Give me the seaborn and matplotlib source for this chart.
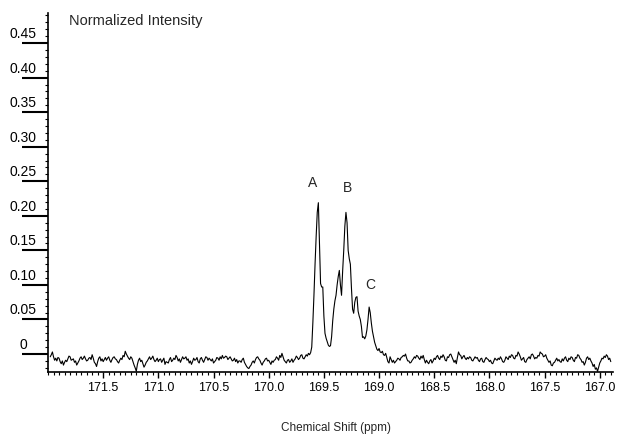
import numpy as np
import pandas as pd
import matplotlib
matplotlib.use("Agg")
import matplotlib.pyplot as plt
import seaborn as sns
from matplotlib.ticker import MultipleLocator
from matplotlib.transforms import ScaledTranslation

sns.set_style("ticks")
plt.rcParams['font.family'] = ['Liberation Sans', 'DejaVu Sans']

# ---- data ----
ppm_start = 171.98
ppm_step = 0.01

baseline_left = [
    -0.004, -0.001, 0.003, -0.004, -0.009, -0.006, -0.010, -0.005, -0.006, -0.011,
    -0.014, -0.010, -0.016, -0.012, -0.009, -0.011, -0.007, -0.003, -0.004, -0.009,
    -0.008, -0.007, -0.012, -0.010, -0.016, -0.013, -0.010, -0.006, -0.004, -0.008,
    -0.006, -0.003, -0.007, -0.010, -0.009, -0.006, -0.005, -0.008, -0.001, -0.006,
    -0.012, -0.014, -0.018, -0.011, -0.006, -0.004, -0.010, -0.007, -0.011, -0.008,
    -0.005, -0.009, -0.006, -0.004, -0.009, -0.012, -0.008, -0.005, -0.004, -0.007,
    -0.008, -0.011, -0.013, -0.009, -0.006, -0.008, -0.002, -0.004, 0.004, 0.000,
    -0.003, -0.006, -0.008, -0.004, -0.006, -0.011, -0.016, -0.020, -0.025, -0.015,
    -0.009, -0.006, -0.011, -0.009, -0.014, -0.019, -0.016, -0.012, -0.010, -0.007,
    -0.004, -0.008, -0.006, -0.003, -0.008, -0.011, -0.009, -0.006, -0.011, -0.008,
    -0.007, -0.012, -0.009, -0.006, -0.015, -0.011, -0.012, -0.013, -0.008, -0.005,
    -0.011, -0.009, -0.006, -0.008, -0.002, -0.005, -0.010, -0.007, -0.012, -0.008,
    -0.004, -0.007, -0.006, -0.004, -0.009, -0.007, -0.013, -0.010, -0.015, -0.011,
    -0.006, -0.009, -0.008, -0.005, -0.011, -0.013, -0.007, -0.005, -0.009, -0.012,
    -0.008, -0.004, -0.005, -0.009, -0.006, -0.008, -0.010, -0.007, -0.013, -0.011,
    -0.009, -0.005, -0.006, -0.009, -0.004, -0.007, -0.002, -0.006, -0.005, -0.003,
    -0.004, -0.008, -0.006, -0.004, -0.007, -0.010, -0.009, -0.006, -0.011, -0.008,
    -0.013, -0.010, -0.010, -0.012, -0.008, -0.006, -0.012, -0.015, -0.018, -0.020,
    -0.021, -0.018, -0.016, -0.012, -0.010, -0.013, -0.008, -0.005, -0.004, -0.007,
    -0.009, -0.013, -0.016, -0.012, -0.010, -0.007, -0.006, -0.010, -0.009, -0.012,
    -0.015, -0.010, -0.012, -0.009, -0.008, -0.004, -0.006, -0.009, -0.002, -0.005,
    0.001, -0.004, -0.009, -0.011, -0.013, -0.009, -0.008, -0.012, -0.010, -0.007,
    -0.012, -0.009, -0.007, -0.003, -0.005, -0.008,
]

peak_region = [
    -0.006, -0.002, -0.001, -0.006, -0.007, -0.004, -0.001, -0.003, 0.001, -0.001,
    0.002, 0.010, 0.045, 0.085, 0.130, 0.170, 0.205, 0.219, 0.160, 0.102,
    0.097, 0.097, 0.055, 0.030, 0.023, 0.018, 0.013, 0.011, 0.012, 0.025,
    0.048, 0.065, 0.077, 0.085, 0.100, 0.112, 0.121, 0.100, 0.085, 0.120,
    0.150, 0.185, 0.205, 0.190, 0.150, 0.138, 0.130, 0.095, 0.065, 0.059,
    0.075, 0.082, 0.083, 0.062, 0.055, 0.050, 0.040, 0.024, 0.025, 0.022,
    0.026, 0.035, 0.050, 0.068, 0.060, 0.045, 0.033, 0.025, 0.017, 0.012,
    0.007, 0.005, 0.008, 0.003, 0.002, 0.004, -0.001, -0.002, 0.001, -0.005,
    -0.011, -0.013, -0.004, -0.008, -0.012,
]

baseline_right = [
    -0.009, -0.013, -0.011, -0.009, -0.006, -0.007, -0.009, -0.005, -0.004, -0.002,
    -0.003, 0.000, -0.006, -0.010, -0.010, -0.013, -0.012, -0.009, -0.007, -0.004,
    -0.006, -0.002, -0.003, -0.006, -0.008, -0.003, -0.006, -0.002, -0.008, -0.013,
    -0.009, -0.012, -0.014, -0.010, -0.008, -0.013, -0.010, -0.006, -0.008, -0.004,
    -0.002, -0.006, -0.008, -0.003, -0.005, -0.001, -0.004, -0.009, -0.010, -0.004,
    -0.005, -0.001, 0.000, -0.004, -0.008, -0.012, -0.009, -0.014, -0.005, 0.003,
    -0.001, -0.002, -0.007, -0.004, -0.002, -0.006, -0.008, -0.005, -0.007, -0.004,
    -0.005, -0.009, -0.010, -0.007, -0.004, -0.006, -0.005, -0.009, -0.011, -0.007,
    -0.006, -0.011, -0.012, -0.008, -0.005, -0.007, -0.008, -0.011, -0.009, -0.013,
    -0.014, -0.010, -0.006, -0.008, -0.009, -0.006, -0.008, -0.004, -0.007, -0.011,
    -0.012, -0.009, -0.004, -0.006, -0.008, -0.003, -0.005, -0.001, -0.002, -0.006,
    -0.007, -0.002, -0.003, 0.003, 0.000, -0.004, -0.009, -0.007, -0.005, -0.011,
    -0.012, -0.008, -0.006, -0.004, -0.007, -0.001, 0.000, -0.003, -0.007, -0.005,
    -0.006, -0.002, -0.003, 0.003, 0.001, 0.000, -0.004, -0.003, -0.001, -0.006,
    -0.009, -0.012, -0.010, -0.016, -0.017, -0.013, -0.012, -0.009, -0.006, -0.010,
    -0.008, -0.011, -0.012, -0.007, -0.010, -0.006, -0.004, -0.009, -0.011, -0.006,
    -0.008, -0.004, -0.005, -0.009, -0.011, -0.005, -0.006, -0.001, -0.002, -0.006,
    -0.008, -0.012, -0.011, -0.016, -0.012, -0.006, -0.004, -0.008, -0.006, -0.010,
    -0.013, -0.018, -0.015, -0.022, -0.020, -0.025, -0.019, -0.013, -0.010, -0.006,
    -0.007, -0.003, -0.005, -0.001, -0.003, -0.008, -0.006, -0.011,
]

peak_labels = ["A", "B", "C"]
peak_label_ppm = [169.60, 169.29, 169.08]
peak_label_int = [0.247, 0.240, 0.100]

x_ticks = [171.5, 171.0, 170.5, 170.0, 169.5, 169.0, 168.5, 168.0, 167.5, 167.0]
x_tick_labels = ["171.5", "171.0", "170.5", "170.0", "169.5", "169.0",
                 "168.5", "168.0", "167.5", "167.0"]
y_ticks = [0.0, 0.05, 0.10, 0.15, 0.20, 0.25, 0.30, 0.35, 0.40, 0.45]
y_tick_labels = ["0", "0.05", "0.10", "0.15", "0.20", "0.25", "0.30",
                 "0.35", "0.40", "0.45"]

intensity = np.array(baseline_left + peak_region + baseline_right)
ppm = ppm_start - ppm_step * np.arange(len(intensity))
df = pd.DataFrame({"ppm": ppm, "intensity": intensity})

# ---- figure ----
W, H = 621, 437
fig = plt.figure(figsize=(W / 100, H / 100), dpi=100)
ax = fig.add_axes([48 / W, 1 - 372 / H, (613 - 48) / W, (372 - 13) / H])

sns.lineplot(data=df, x="ppm", y="intensity", ax=ax, color="black",
             linewidth=0.8, estimator=None, sort=False)

ax.set_xlim(172.0, 166.88)
ax.set_ylim(-0.026, 0.4935)

for s in ["top", "right"]:
    ax.spines[s].set_visible(False)
for s in ["left", "bottom"]:
    ax.spines[s].set_linewidth(1.2)
    ax.spines[s].set_color("black")

ax.set_xticks(x_ticks)
ax.set_xticklabels(x_tick_labels)
ax.xaxis.set_minor_locator(MultipleLocator(0.05))
ax.tick_params(axis="x", which="major", direction="out", length=4, width=1.0,
               pad=3, labelsize=9, colors="black")
ax.tick_params(axis="x", which="minor", direction="out", length=2.5, width=0.8,
               colors="black")

ax.set_yticks(y_ticks)
ax.set_yticklabels(y_tick_labels)
ax.yaxis.set_minor_locator(MultipleLocator(0.01))
ax.tick_params(axis="y", which="major", direction="out", length=18.7, width=1.5,
               pad=0, labelsize=10, colors="black")
ax.tick_params(axis="y", which="minor", direction="out", length=2.5, width=0.8,
               colors="black")
for lbl in ax.get_yticklabels():
    lbl.set_horizontalalignment("center")
    lbl.set_transform(lbl.get_transform() +
                      ScaledTranslation(0.01, 0.105, fig.dpi_scale_trans))

ax.set_ylabel("")
ax.set_xlabel("Chemical Shift (ppm)", fontsize=8.5)
ax.xaxis.label.set_verticalalignment("center")
ax.xaxis.set_label_coords(0.51, -0.156)

fig.text(69 / W, 1 - 21 / H, "Normalized Intensity", fontsize=10.5,
         ha="left", va="center")

for lab, xp, yp in zip(peak_labels, peak_label_ppm, peak_label_int):
    ax.text(xp, yp, lab, fontsize=10, ha="center", va="center")

ax.grid(False)
fig.savefig("out.png", dpi=100, facecolor="white")
